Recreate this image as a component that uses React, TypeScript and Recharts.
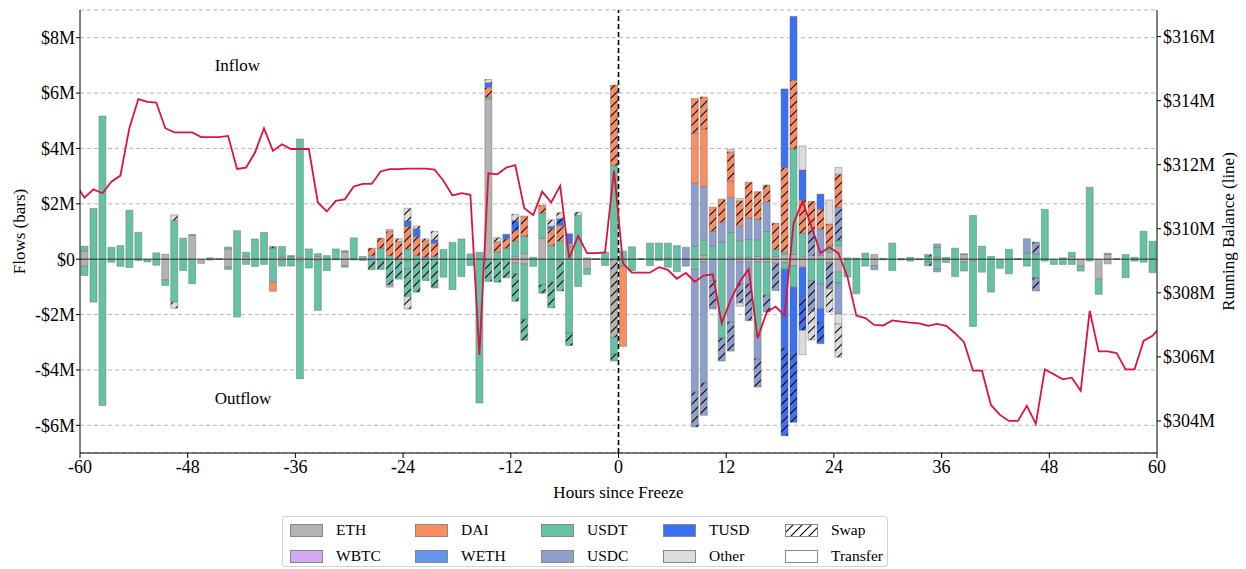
import React from 'react';
import {
  ComposedChart,
  Bar,
  Line,
  XAxis,
  YAxis,
  CartesianGrid,
  ReferenceLine,
  ReferenceDot,
} from 'recharts';

const FONT = "'Liberation Serif', 'Times New Roman', serif";

// ---------- axes ----------
const X_TICKS = [-60, -48, -36, -24, -12, 0, 12, 24, 36, 48, 60];
const FLOW_TICKS = [-6, -4, -2, 0, 2, 4, 6, 8];
const BAL_TICKS = [304, 306, 308, 310, 312, 314, 316];

// hourly bins, start hour of each bin (-60 .. 59)
const BIN_STARTS = Array.from({ length: 120 }, (_, i) => i - 60);

// ---------- colours ----------
const COLORS: Record<string, string> = {
  ETH: '#b3b3b3',
  WBTC: '#d4a8f0',
  DAI: '#fc8d62',
  WETH: '#6495ed',
  USDT: '#66c2a5',
  USDC: '#8da0cb',
  TUSD: '#3b70f2',
  Other: '#dcdcdc',
};

// ---------- values in $M ----------
// USDT transfer inflow / outflow, one value per hourly bin
const USDT_IN = [
  0.18, 1.83, 5.17, 0.43, 0.49, 1.77, 0.97, 0, 0.23, 0,
  1.40, 0.76, 0.03, 0, 0.05, 0.02, 0.07, 1.03, 0.15, 0.73,
  0.97, 0.40, 0.39, 0.10, 4.27, 0.37, 0.10, 0.13, 0.37, 0.06,
  0.77, 0.10, 0, 0.40, 0.13, 0, 0.37, 0.13, 0, 0.10,
  0.35, 0.61, 0.73, 0.19, 0.25, 0.06, 0.25, 0.40, 0.55, 0.63,
  0.07, 0.90, 0.49, 0.65, 0.46, 1.58, 0, 0.02, 0.25, 3.38,
  0.29, 0.45, 0.02, 0.58, 0.58, 0.53, 0.49, 0.03, 0.47, 0.57,
  0.47, 0.61, 0.90, 0.60, 0.64, 0.60, 0.95, 0.25, 0.08, 3.81,
  0.84, 0, 0, 0.24, 0.18, 0, 0.04, 0.22, 0, 0.03,
  0.58, 0.03, 0.07, 0, 0.10, 0.36, 0.07, 0.40, 0.03, 1.58,
  0.47, 0.10, 0, 0.36, 0.02, 0.22, 0.17, 1.80, 0, 0.05,
  0.15, 0, 2.60, 0, 0.05, 0.02, 0.17, 0.07, 1.01, 0.65,
];
const USDT_OUT = [
  -0.34, -1.55, -5.28, -0.11, -0.26, -0.30, -0.05, -0.10, -0.22, -0.20,
  -1.55, -0.41, -0.89, 0, -0.03, -0.01, -0.08, -2.09, -0.19, -0.26,
  -0.19, -0.83, -0.18, -0.25, -4.25, -0.32, -1.80, -0.41, -0.02, -0.06,
  -0.03, 0, 0, 0, 0, 0, -0.30, 0, 0, 0,
  -0.65, -1.10, -0.63, -0.23, -5.19, 0, 0, 0, -0.39, -2.00,
  -0.26, -0.93, -0.83, 0, -2.67, -0.99, -0.20, -0.01, -0.23, -0.60,
  -0.26, -0.41, -0.01, -0.23, -0.05, -0.29, -0.45, 0, -0.37, 0,
  0, -2.85, 0, 0, 0, -2.66, -1.20, 0, -0.24, -0.78,
  0, -0.77, -0.89, 0, -0.39, -0.64, -1.25, -0.25, 0, -0.02,
  -0.41, -0.03, -0.07, 0, -0.10, -0.28, -0.12, -0.63, -0.33, -2.36,
  -0.47, -1.19, -0.33, -0.53, -0.01, -0.25, -0.67, -0.07, -0.19, -0.19,
  -0.19, -0.18, -0.07, -0.55, 0, -0.01, -0.67, -0.07, -0.11, -0.49,
];

// sparse series: [bin start hour, value $M]
type Sparse = [number, number][];
const ETH_IN: Sparse = [
  [-60, 0.29], [-51, 0.18], [-48, 0.86], [-44, 0.37], [-42, 0.10], [-38, 0.07], [-36, 0.07],
  [-34, 0.10], [-31, 0.25], [-15, 5.79], [-12, 0.10], [-11, 0.20], [-9, 0.76], [-4, 0.05],
  [5, 0.05], [9, 0.13], [12, 0.07], [13, 0.07], [14, 0.07], [15, 0.10], [16, 0.05], [17, 0.10],
  [18, 0.17], [19, 0.17], [20, 0.10], [21, 0.13], [22, 0.13], [23, 0.25], [24, 0.49], [25, 0.05],
  [28, 0.17], [33, 0.02], [35, 0.07], [38, 0.17], [50, 0.10], [54, 0.17],
];
const ETH_OUT: Sparse = [
  [-60, -0.25], [-51, -0.75], [-47, -0.15], [-44, -0.29], [-38, -0.07], [-36, -0.07], [-34, -0.05],
  [-31, -0.23], [-29, -0.05], [-24, -0.05], [-12, -0.14], [-11, -0.17], [-7, -0.07], [-4, -0.35],
  [9, -0.10], [13, -0.10], [14, -0.11], [15, -0.10], [16, -0.10], [17, -0.15], [18, -0.12],
  [19, -0.23], [20, -0.29], [23, -0.13], [24, -0.47], [28, -0.23], [33, -0.02], [35, -0.07],
  [38, -0.10], [39, -0.07], [51, -0.25], [53, -0.72], [54, -0.17],
];
const ETH_SWAP_OUT: Sparse = [[-1, -2.82]];

const USDT_SWAP_IN: Sparse = [[-39, 0.06], [34, 0.07]];
const USDT_SWAP_OUT: Sparse = [
  [-28, -0.38], [-27, -0.37], [-26, -0.93], [-25, -0.72], [-24, -1.00], [-23, -1.19], [-22, -0.77],
  [-21, -0.99], [-15, -0.80], [-14, -0.83], [-13, -0.67], [-12, -0.99], [-11, -0.76], [-9, -0.30],
  [-8, -0.93], [-7, -1.08], [-6, -0.45], [-1, -0.26], [34, -0.14],
];

const USDC_IN: Sparse = [
  [-37, 0.03], [-28, 0.13], [-22, 0.08], [7, 0.40], [8, 2.27], [9, 1.93], [10, 0.54], [11, 0.72],
  [12, 1.26], [13, 0.54], [14, 0.77], [15, 0.74], [16, 1.08], [22, 0.96], [35, 0.12], [45, 0.52],
];
const USDC_OUT: Sparse = [
  [-21, -0.05], [7, -0.25], [8, -4.43], [9, -4.37], [10, -0.77], [12, -2.27], [13, -0.78],
  [14, -0.78], [15, -0.84], [22, -0.90], [24, -1.12], [28, -0.15], [35, -0.11],
];
const USDC_SWAP_IN: Sparse = [[21, 0.90], [24, 1.20], [46, 0.45]];
const USDC_SWAP_OUT: Sparse = [
  [8, -1.26], [9, -1.17], [10, -0.99], [11, -0.83], [12, -1.05], [13, -0.70], [14, -1.33],
  [15, -1.02], [16, -0.60], [17, -0.98], [21, -1.12], [23, -0.94], [46, -0.48],
];

const DAI_IN: Sparse = [[-6, 0.10], [8, 1.80], [9, 2.07], [12, 0.60]];
const DAI_OUT: Sparse = [[-39, -0.33], [0, -2.89]];
const DAI_SWAP_IN: Sparse = [
  [-28, 0.27], [-27, 0.36], [-26, 0.87], [-25, 0.64], [-24, 0.81], [-23, 0.69], [-22, 0.60],
  [-21, 0.48], [-15, 0.36], [-14, 0.38], [-13, 0.34], [-12, 0.39], [-11, 0.73], [-9, 0.29],
  [-8, 0.60], [-7, 0.57], [-1, 2.91], [8, 1.26], [9, 1.16], [10, 0.87], [11, 0.84], [12, 1.05],
  [13, 0.90], [14, 1.30], [15, 1.00], [16, 0.60], [17, 0.95], [18, 3.07], [19, 2.49], [20, 1.20],
  [21, 1.06], [22, 0.72], [23, 0.78], [24, 1.20],
];

const WBTC_IN: Sparse = [[-26, 0.07]];
const WBTC_OUT: Sparse = [[-26, -0.08], [10, -0.04]];

const TUSD_IN: Sparse = [
  [-24, 0.20], [-23, 0.28], [-21, 0.12], [-15, 0.16], [-13, 0.16], [-8, 0.10], [-6, 0.36],
  [18, 2.83], [19, 2.30], [20, 1.08], [22, 0.54],
];
const TUSD_OUT: Sparse = [[18, -2.83], [19, -2.35], [20, -1.08], [22, -0.48]];
const TUSD_SWAP_IN: Sparse = [[-12, 0.36], [-7, 0.24]];
const TUSD_SWAP_OUT: Sparse = [[18, -3.19], [19, -2.53], [20, -1.20], [22, -0.78]];

const OTHER_IN: Sparse = [[12, 0.08], [13, 0.08], [20, 0.87], [23, 0.87], [24, 0.24]];
const OTHER_OUT: Sparse = [[13, -0.12], [20, -0.88], [24, -0.36]];
const OTHER_SWAP_IN: Sparse = [
  [-50, 0.20], [-25, 0.10], [-24, 0.46], [-23, 0.10], [-22, 0.06], [-21, 0.31], [-15, 0.12],
  [-14, 0.15], [-12, 0.22], [-8, 0.23], [-7, 0.22], [-5, 0.12],
];
const OTHER_SWAP_OUT: Sparse = [[-50, -0.22], [-24, -0.45], [21, -1.03], [23, -0.84], [24, -1.20]];

// running balance ($M) at hours -60.5, -59.5, ..., 60.5
const BALANCE = [
  311.39,
  310.97, 311.23, 311.11, 311.47, 311.66, 313.14, 314.05, 313.96, 313.94, 313.14,
  313.01, 313.01, 313.01, 312.86, 312.86, 312.86, 312.90, 311.87, 311.91, 312.38,
  313.14, 312.43, 312.64, 312.49, 312.49, 312.49, 310.82, 310.54, 310.87, 310.92,
  311.32, 311.40, 311.40, 311.79, 311.86, 311.86, 311.88, 311.88, 311.88, 311.85,
  311.50, 311.04, 311.11, 311.06, 306.06, 311.73, 311.70, 311.91, 311.99, 310.64,
  310.43, 311.16, 310.82, 311.34, 309.08, 309.78, 309.24, 309.24, 309.26, 311.82,
  308.92, 308.63, 308.63, 308.63, 308.80, 308.72, 308.44, 308.62, 308.35, 308.54,
  308.58, 307.05, 307.78, 308.35, 308.74, 306.58, 307.39, 307.57, 307.29, 310.17,
  310.85, 310.07, 309.24, 309.42, 309.24, 308.51, 307.29, 307.21, 307.00, 306.98,
  307.14, 307.10, 307.07, 307.05, 306.97, 307.03, 306.97, 306.74, 306.46, 305.57,
  305.57, 304.50, 304.19, 304.00, 304.00, 304.47, 303.91, 305.61, 305.46, 305.30,
  305.35, 304.94, 307.44, 306.17, 306.17, 306.12, 305.61, 305.61, 306.50, 306.66,
  306.97,
];

// ---------- build table ----------
const full = (s: Sparse): number[] => {
  const m = new Map(s);
  return BIN_STARTS.map((h) => m.get(h) ?? 0);
};

type Spec = { key: string; token: string; swap: boolean; values: number[] };
const SERIES: Spec[] = [
  { key: 'ethIn', token: 'ETH', swap: false, values: full(ETH_IN) },
  { key: 'ethOut', token: 'ETH', swap: false, values: full(ETH_OUT) },
  { key: 'ethSwapOut', token: 'ETH', swap: true, values: full(ETH_SWAP_OUT) },
  { key: 'usdtIn', token: 'USDT', swap: false, values: USDT_IN },
  { key: 'usdtOut', token: 'USDT', swap: false, values: USDT_OUT },
  { key: 'usdtSwapIn', token: 'USDT', swap: true, values: full(USDT_SWAP_IN) },
  { key: 'usdtSwapOut', token: 'USDT', swap: true, values: full(USDT_SWAP_OUT) },
  { key: 'usdcIn', token: 'USDC', swap: false, values: full(USDC_IN) },
  { key: 'usdcOut', token: 'USDC', swap: false, values: full(USDC_OUT) },
  { key: 'usdcSwapIn', token: 'USDC', swap: true, values: full(USDC_SWAP_IN) },
  { key: 'usdcSwapOut', token: 'USDC', swap: true, values: full(USDC_SWAP_OUT) },
  { key: 'daiIn', token: 'DAI', swap: false, values: full(DAI_IN) },
  { key: 'daiOut', token: 'DAI', swap: false, values: full(DAI_OUT) },
  { key: 'daiSwapIn', token: 'DAI', swap: true, values: full(DAI_SWAP_IN) },
  { key: 'wbtcIn', token: 'WBTC', swap: false, values: full(WBTC_IN) },
  { key: 'wbtcOut', token: 'WBTC', swap: false, values: full(WBTC_OUT) },
  { key: 'tusdIn', token: 'TUSD', swap: false, values: full(TUSD_IN) },
  { key: 'tusdOut', token: 'TUSD', swap: false, values: full(TUSD_OUT) },
  { key: 'tusdSwapIn', token: 'TUSD', swap: true, values: full(TUSD_SWAP_IN) },
  { key: 'tusdSwapOut', token: 'TUSD', swap: true, values: full(TUSD_SWAP_OUT) },
  { key: 'otherIn', token: 'Other', swap: false, values: full(OTHER_IN) },
  { key: 'otherOut', token: 'Other', swap: false, values: full(OTHER_OUT) },
  { key: 'otherSwapIn', token: 'Other', swap: true, values: full(OTHER_SWAP_IN) },
  { key: 'otherSwapOut', token: 'Other', swap: true, values: full(OTHER_SWAP_OUT) },
];

const ROWS = BALANCE.map((bal, k) => {
  const row: Record<string, number> = { x: -60.5 + k, bal };
  const bin = k - 1;
  SERIES.forEach((s) => {
    row[s.key] = bin >= 0 && bin < 120 ? s.values[bin] : 0;
  });
  return row;
});

const fmtFlow = (v: number) => (v === 0 ? '$0' : v < 0 ? `-$${-v}M` : `$${v}M`);
const fmtBal = (v: number) => `$${v}M`;

const HATCH = 9;
const hatchPattern = (id: string, bg: string) => (
  <pattern key={id} id={id} patternUnits="userSpaceOnUse" width={HATCH} height={HATCH}>
    <rect width={HATCH} height={HATCH} fill={bg} />
    <path
      d={`M0,${HATCH} L${HATCH},0 M-2,2 L2,-2 M${HATCH - 2},${HATCH + 2} L${HATCH + 2},${HATCH - 2}`}
      stroke="#000"
      strokeWidth={1.1}
    />
  </pattern>
);

const tickStyle = { fill: '#000', fontSize: 18, fontFamily: FONT };

const LEGEND_ROWS = [
  ['ETH', 'DAI', 'USDT', 'TUSD', 'Swap'],
  ['WBTC', 'WETH', 'USDC', 'Other', 'Transfer'],
];
const LEGEND_COLS = [7, 132, 258, 380, 502];
const LEGEND_ROW_Y = [13, 39];

function Swatch({ name }: { name: string }) {
  const w = 33;
  const h = 13;
  if (name === 'Swap') {
    return (
      <svg width={w} height={h} style={{ display: 'block' }}>
        <defs>{hatchPattern('legend-hatch', '#ffffff')}</defs>
        <rect x={0.5} y={0.5} width={w - 1} height={h - 1} fill="url(#legend-hatch)" stroke="#888" />
      </svg>
    );
  }
  const fill = name === 'Transfer' ? '#ffffff' : COLORS[name];
  return (
    <svg width={w} height={h} style={{ display: 'block' }}>
      <rect x={0.5} y={0.5} width={w - 1} height={h - 1} fill={fill} stroke="#888" />
    </svg>
  );
}

function LegendBox() {
  return (
    <div
      style={{
        position: 'absolute',
        left: 274,
        top: 508,
        width: 606,
        height: 51,
        boxSizing: 'border-box',
        border: '1px solid #d3d3d3',
        borderRadius: 3,
        background: '#fff',
        fontFamily: FONT,
        fontSize: 15.5,
        color: '#000',
      }}
    >
      {LEGEND_ROWS.map((row, r) =>
        row.map((name, c) => (
          <div
            key={name}
            style={{
              position: 'absolute',
              left: LEGEND_COLS[c],
              top: LEGEND_ROW_Y[r] - 9,
              height: 18,
              display: 'flex',
              alignItems: 'center',
              whiteSpace: 'nowrap',
            }}
          >
            <Swatch name={name} />
            <span style={{ marginLeft: 13, lineHeight: '18px' }}>{name}</span>
          </div>
        ))
      )}
    </div>
  );
}

export default function App() {
  return (
    <div style={{ position: 'relative', width: 1238, height: 561, fontFamily: FONT }}>
      <style>{'html{overflow:hidden}'}</style>
      <ComposedChart
        width={1238}
        height={500}
        data={ROWS}
        margin={{ top: 2, right: 8, bottom: 5, left: 0 }}
        stackOffset="sign"
      >
        <defs>
          {Object.keys(COLORS).map((t) => hatchPattern(`hatch-${t}`, COLORS[t]))}
        </defs>
        <CartesianGrid yAxisId="flow" vertical={false} stroke="#b8b8b8" strokeDasharray="4 3" />
        <XAxis
          dataKey="x"
          type="number"
          domain={[-60, 60]}
          ticks={X_TICKS}
          interval={0}
          allowDataOverflow
          height={50}
          tickSize={5}
          tickMargin={2}
          stroke="#000"
          tick={tickStyle}
          tickFormatter={(v: number) => String(v)}
          label={{
            value: 'Hours since Freeze',
            position: 'insideBottom',
            offset: 5,
            fill: '#000',
            fontSize: 17,
            fontFamily: FONT,
          }}
        />
        <YAxis
          yAxisId="flow"
          domain={[-7, 9]}
          ticks={FLOW_TICKS}
          interval={0}
          allowDataOverflow
          width={72}
          tickSize={4}
          tickMargin={1}
          stroke="#000"
          tick={tickStyle}
          tickFormatter={fmtFlow}
          label={{
            value: 'Flows (bars)',
            angle: -90,
            position: 'center',
            dx: -25,
            fill: '#000',
            fontSize: 17,
            fontFamily: FONT,
          }}
        />
        <YAxis
          yAxisId="bal"
          orientation="right"
          domain={[303, 316.83]}
          ticks={BAL_TICKS}
          interval={0}
          allowDataOverflow
          width={81}
          tickSize={4}
          tickMargin={2}
          stroke="#000"
          tick={tickStyle}
          tickFormatter={fmtBal}
          label={{
            value: 'Running Balance (line)',
            angle: -90,
            position: 'center',
            dx: 30,
            fill: '#000',
            fontSize: 17,
            fontFamily: FONT,
          }}
        />
        {SERIES.map((s) => (
          <Bar
            key={s.key}
            dataKey={s.key}
            yAxisId="flow"
            stackId="flows"
            barSize={7}
            fill={s.swap ? `url(#hatch-${s.token})` : COLORS[s.token]}
            stroke="#666"
            strokeOpacity={0.7}
            strokeWidth={0.6}
            isAnimationActive={false}
          />
        ))}
        <ReferenceLine yAxisId="flow" y={0} stroke="#000" strokeWidth={0.8} strokeOpacity={0.8} />
        <ReferenceLine yAxisId="flow" x={0} stroke="#000" strokeWidth={1.6} strokeDasharray="5 3" />
        <Line
          yAxisId="bal"
          dataKey="bal"
          type="linear"
          stroke="#dc143c"
          strokeWidth={1.8}
          dot={false}
          activeDot={false}
          isAnimationActive={false}
        />
        <ReferenceDot
          yAxisId="flow"
          x={-45}
          y={7}
          r={0}
          fill="none"
          stroke="none"
          label={{ value: 'Inflow', position: 'right', offset: 0, fill: '#000', fontSize: 17, fontFamily: FONT }}
        />
        <ReferenceDot
          yAxisId="flow"
          x={-45}
          y={-5}
          r={0}
          fill="none"
          stroke="none"
          label={{ value: 'Outflow', position: 'right', offset: 0, fill: '#000', fontSize: 17, fontFamily: FONT }}
        />
      </ComposedChart>
      <LegendBox />
    </div>
  );
}
